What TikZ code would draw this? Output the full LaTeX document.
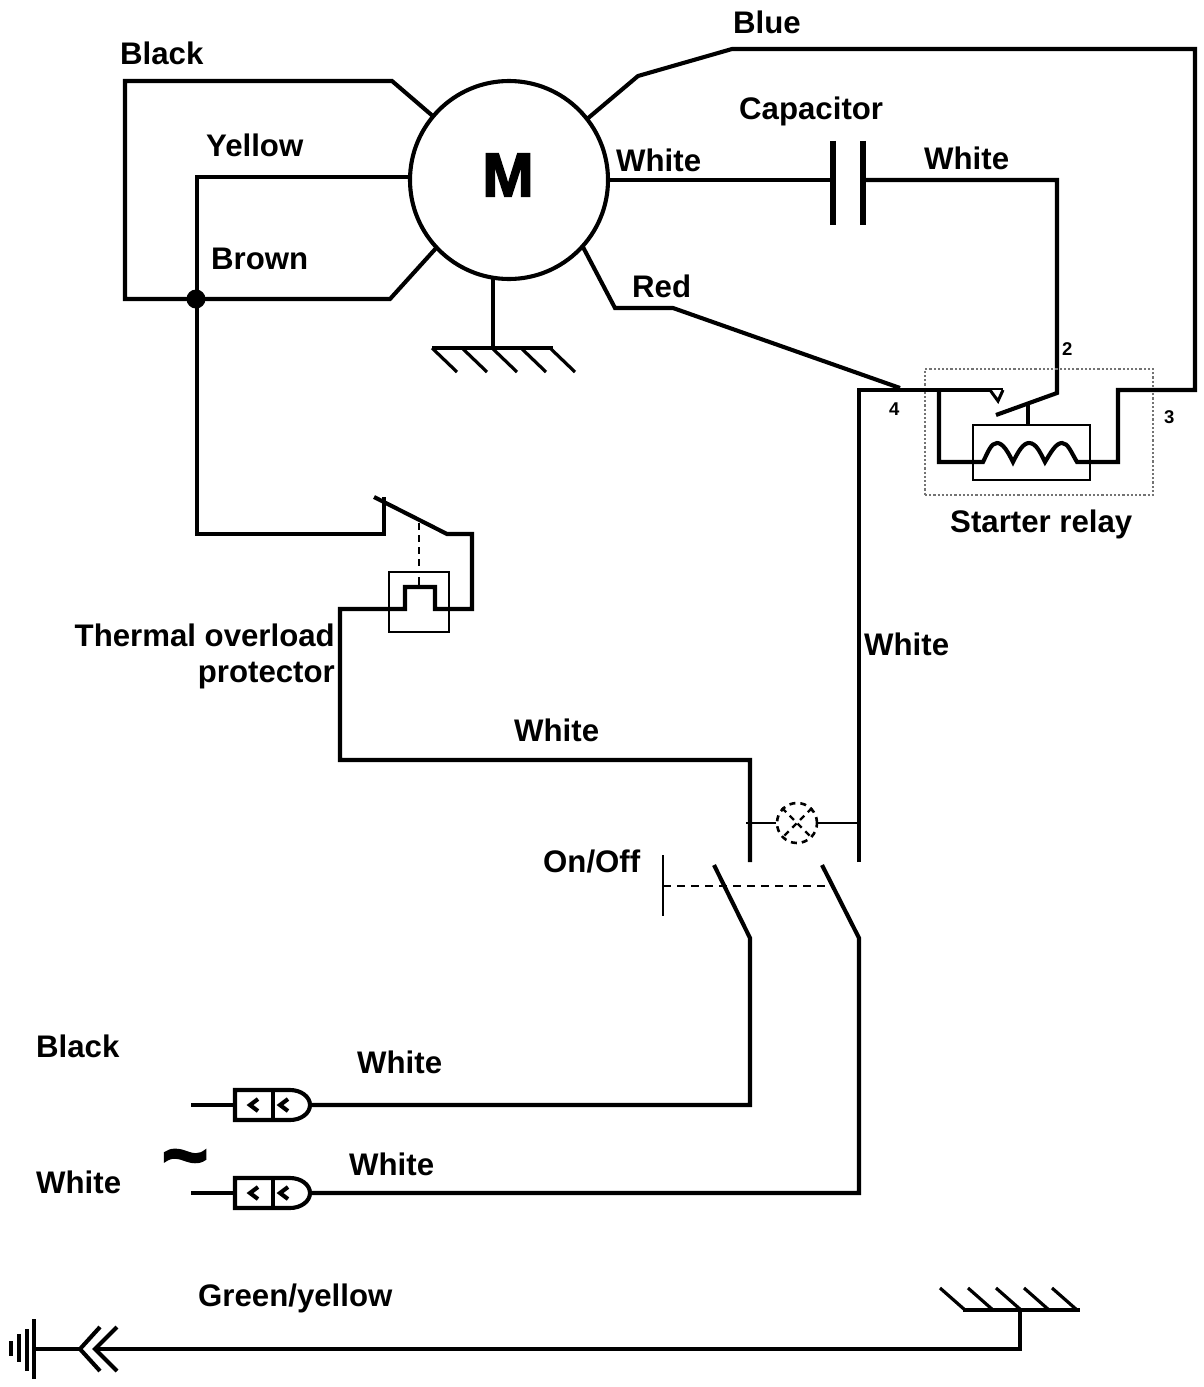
\documentclass[tikz,border=0pt]{standalone}
\usepackage{fontspec}
\setmainfont{Liberation Sans}
\newfontfamily\heavyfont[BoldFeatures={FakeBold=2.5}]{Liberation Sans}
\newcommand{\plugat}[2]{
  \coordinate (#1tail) at (191,#2);
  \coordinate (#1body) at (234,#2);
  \coordinate (#1nose) at (311,#2);
  \draw[wire,fill=white] (235,#2-15) -- (290,#2-15) arc (90:-90:20pt and 15pt) -- (235,#2+15) -- cycle;
  \draw[wire] (273,#2-15) -- (273,#2+15);
  \draw[wire] (#1tail) -- (#1body);
  \draw[wire] (258,#2-6) -- (250,#2) -- (258,#2+6);
  \draw[wire] (288,#2-6) -- (280,#2) -- (288,#2+6);
}
\begin{document}
\begin{tikzpicture}[
      x=1pt,y=-1pt,
      wire/.style={line width=4.1pt,draw=black,line join=miter},
      plate/.style={line width=5.5pt,draw=black},
      thin wire/.style={line width=1.9pt,draw=black},
      linked/.style={line width=2.6pt,draw=black,dash pattern=on 8pt off 6pt},
      wirelabel/.style={font=\fontsize{31.2}{36}\selectfont\bfseries,anchor=base west,inner sep=0pt},
      pinlabel/.style={font=\fontsize{18.5}{20}\selectfont\bfseries,anchor=base west,inner sep=0pt},
      every label/.style={font=\footnotesize,draw=none}
      ]
      \useasboundingbox (0,0) rectangle (1203,1387);

      \node[circle,wire,fill=white,minimum size=198pt,inner sep=0pt,outer sep=0pt] (motor) at (509,180) {};
      \node[font=\fontsize{62}{62}\selectfont\heavyfont\bfseries,inner sep=0pt] (mletter) at (508,175) {M};
      \node[circle,fill=black,minimum size=19pt,inner sep=0pt] (junction) at (196,299) {};

      % left side of the motor
      \draw[wire] (motor.140) -- (392,81) -- (125,81) -- (125,299) -- (junction.center);
      \draw[wire] (motor.223) -- (390,299) -- (junction.center);
      \coordinate (yellowbend) at (197,177);
      \coordinate (tripfix) at (384,497);
      \draw[wire] (yellowbend -| motor.west) -- (yellowbend) -- (197,534) -- (384,534) -- (tripfix);

      % thermal overload protector
      \node[draw=black,line width=1.6pt,minimum size=60pt,inner sep=0pt] (thermalbox) at (419,602) {};
      \coordinate (tripend) at (374,497);
      \coordinate (tripturn) at (447,534);
      \coordinate (lampfeed) at (750,862);
      \draw[wire] (tripend) -- (tripturn) -- (472,534) -- (472,609) -- (435,609) -- (435,587)
        -- (405,587) -- (405,609) -- (340,609) -- (340,760) -- (750,760) -- (lampfeed);
      \draw[thin wire,dash pattern=on 7pt off 5pt] (419,523) -- (thermalbox.north);
      \draw[thin wire] (thermalbox.north) ++(0,6) -- (419,587);

      % motor ground
      \coordinate (gnda) at (493,348);
      \draw[wire] (gnda |- motor.260) -- (gnda);
      \draw[wire] (432,348) -- (553,348);
      \foreach \x in {432,462,492,521,550}
        \draw[line width=3.2pt] (\x,348) -- ++(25,24);

      % capacitor
      \node[minimum width=30pt,minimum height=84pt,inner sep=0pt] (capacitor) at (848,183) {};
      \draw[plate] (capacitor.north west) -- (capacitor.south west);
      \draw[plate] (capacitor.north east) -- (capacitor.south east);
      \draw[wire] (motor.east) -- (motor.east -| capacitor.west);
      \coordinate (relaytip) at (996,415);
      \draw[wire] (motor.east -| capacitor.east) -- (1057,180) -- (1057,393) -- (relaytip);

      % starter relay
      \node[draw=black!55,line width=2.2pt,dotted,minimum width=228pt,minimum height=126pt,inner sep=0pt] (relaybox) at (1039,432) {};
      \node[draw=black,line width=1.6pt,minimum width=117pt,minimum height=55pt,inner sep=0pt] (coilbox) at (1031.5,452.5) {};
      \coordinate (redend) at (900,388);
      \coordinate (contact) at (1003,390);
      \coordinate (whitefeed) at (859,862);
      \draw[wire] (motor.318) -- (615,308) -- (673,308) -- (redend);
      \draw[wire] (whitefeed) -- (859,390) -- (contact);
      \draw[line width=3pt,fill=white] (contact) -- (998,401) -- (990,390);
      \draw[wire] (1028,403) -- (coilbox.north -| 1028,0);
      \draw[wire] (motor.38) -- (638,76) -- (732,49) -- (1195,49) -- (1195,390) -- (1118,390) -- (1118,462) -- (1077,462)
        .. controls (1071,452) and (1068,443) .. (1062,443)
        .. controls (1056,443) and (1051,452) .. (1045,462)
        .. controls (1040,452) and (1036,443) .. (1029,443)
        .. controls (1023,443) and (1018,452) .. (1013,462)
        .. controls (1008,452) and (1003,443) .. (997,443)
        .. controls (991,443) and (988,452) .. (983,462)
        -- (939,462) -- (939,390);

      % lamp and switch
      \node[circle,draw=black,line width=2.6pt,dash pattern=on 6pt off 5pt,minimum size=40pt,inner sep=0pt] (lamp) at (797,823) {};
      \draw[thin wire] (746,823) -- (lamp.west);
      \draw[thin wire] (lamp.east) -- (858,823);
      \draw[thin wire,line width=2.4pt,dash pattern=on 6pt off 5pt] (lamp.45) -- (lamp.225);
      \draw[thin wire,line width=2.4pt,dash pattern=on 6pt off 5pt] (lamp.135) -- (lamp.315);
      \coordinate (knobtop) at (663,855);
      \coordinate (knobbot) at (663,916);
      \coordinate (knobmid) at (663,886);
      \coordinate (bladeend) at (832,886);
      \draw[line width=2.6pt] (knobtop) -- (knobbot);
      \draw[linked] (knobmid) -- (bladeend);

      % plugs
      \plugat{plugb}{1105}
      \plugat{plugw}{1193}
      \draw[wire] (714,865) -- (750,938) -- (750,1105) -- (plugbnose);
      \draw[wire] (822,865) -- (859,938) -- (859,1193) -- (plugwnose);

      % earth
      \node[minimum width=0pt,inner sep=0pt] (earthbar) at (34,1349) {};
      \coordinate (chassis) at (1020,1310);
      \draw[wire] (chassis) -- (1020,1349) -- (95,1349);
      \draw[wire] (80,1349) -- (earthbar);
      \draw[wire] (100,1327) -- (80,1349) -- (100,1371);
      \draw[wire] (117,1327) -- (95,1349) -- (117,1371);
      \draw[line width=4pt] (34,1319) -- (34,1379);
      \draw[line width=4pt] (27,1329) -- (27,1371);
      \draw[line width=4pt] (19,1334) -- (19,1362);
      \draw[line width=4pt] (11,1341) -- (11,1356);
      \draw[wire] (963,1310) -- (1080,1310);
      \foreach \x in {940,968,996,1024,1052}
        \draw[line width=3.2pt] (\x,1288) -- ++(25,22);

      % labels
      \node[wirelabel] (lblack) at (120,64) {Black};
      \node[wirelabel] (lyellow) at (206,156) {Yellow};
      \node[wirelabel] (lbrown) at (211,269) {Brown};
      \node[wirelabel] (lwhitea) at (616,171) {White};
      \node[wirelabel] (lcap) at (739,119) {Capacitor};
      \node[wirelabel] (lwhiteb) at (924,169) {White};
      \node[wirelabel] (lblue) at (733,33) {Blue};
      \node[wirelabel] (lred) at (632,297) {Red};
      \node[wirelabel] (lrelay) at (950,532) {Starter relay};
      \node[wirelabel] (lwhitec) at (864,655) {White};
      \node[wirelabel,anchor=east,align=right] (lthermal) at (335,656) {Thermal overload\\protector};
      \node[wirelabel] (lwhited) at (514,741) {White};
      \node[wirelabel] (lonoff) at (543,872) {On/Off};
      \node[wirelabel] (lmainb) at (36,1057) {Black};
      \node[wirelabel] (lwhitee) at (357,1073) {White};
      \node[wirelabel] (lmainw) at (36,1193) {White};
      \node[wirelabel] (lwhitef) at (349,1175) {White};
      \node[wirelabel] (lgreen) at (198,1306) {Green/yellow};
      \node[pinlabel] (pintwo) at (1062,355) {2};
      \node[pinlabel] (pinthree) at (1164,423) {3};
      \node[pinlabel] (pinfour) at (889,415) {4};
      \node[font=\fontsize{80}{80}\selectfont\heavyfont\bfseries,inner sep=0pt] (ltilde) at (185,1166) {\char`~};
    \end{tikzpicture}
\end{document}
